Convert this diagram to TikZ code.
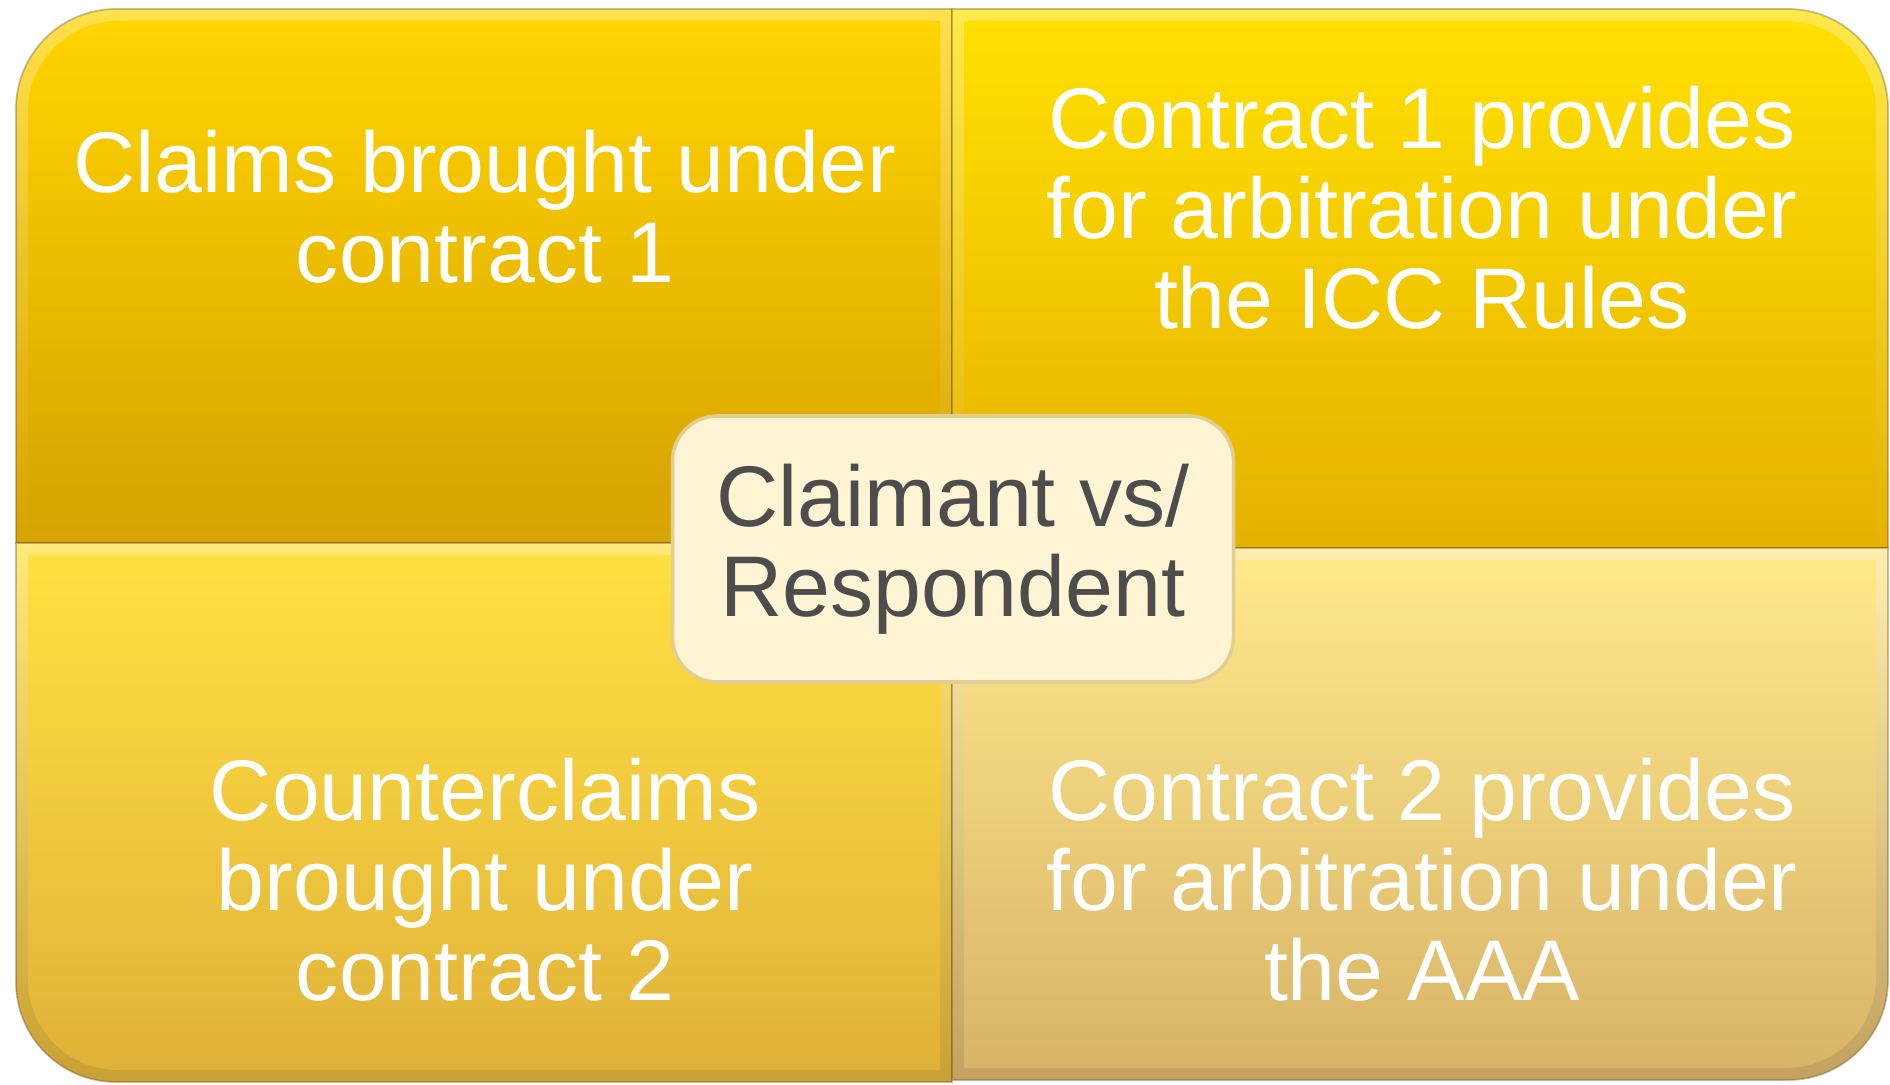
\documentclass[tikz,border=0pt]{standalone}
\usepackage{fontspec}
\setmainfont{Liberation Sans}
\usepackage{tikz}
\usetikzlibrary{positioning}
\usepackage{xcolor}
\definecolor{tltop}{HTML}{FFD400}
\definecolor{tlbot}{HTML}{D6A300}
\definecolor{trtop}{HTML}{FFE000}
\definecolor{trbot}{HTML}{E6B200}
\definecolor{bltop}{HTML}{FFE040}
\definecolor{blbot}{HTML}{E0B23A}
\definecolor{brtop}{HTML}{FFE88A}
\definecolor{brbot}{HTML}{D8B468}
\definecolor{hubfill}{HTML}{FFF4D4}
\definecolor{hubline}{HTML}{E2CD94}
\definecolor{hubtext}{HTML}{4D4D4D}
\tikzstyle{rim} = [draw=black!45!brown, draw opacity=0.35, line width=0.5pt]
\tikzstyle{paneltext} = [text=white, align=center, font=\fontsize{24.5}{25.6}\selectfont]
\tikzstyle{hub} = [rectangle, rounded corners=4.5mm, draw=hubline, fill=hubfill, line width=1pt, minimum width=56.1mm, minimum height=26.6mm, align=center, text=hubtext, font=\fontsize{24.5}{25.6}\selectfont]

\begin{document}
\begin{tikzpicture}[x=0.1mm, y=-0.1mm]
    \useasboundingbox (0,0) rectangle (1890,1085);
    % outer rims
    \path[rim, shade, top color=tltop!70!white, bottom color=tlbot] (16,543) [rounded corners=10mm] -- (16,9) [sharp corners] -- (952,9) -- (952,543) -- cycle;
    \path[rim, shade, top color=trtop!70!white, bottom color=trbot] (952,548) -- (952,9) [rounded corners=10mm] -- (1888,9) [sharp corners] -- (1888,548) -- cycle;
    \path[rim, shade, top color=bltop!70!white, bottom color=blbot!90!black] (952,543) -- (16,543) [rounded corners=10mm] -- (16,1082) [sharp corners] -- (952,1082) -- cycle;
    \path[rim, shade, top color=brtop!70!white, bottom color=brbot!90!black] (952,548) -- (1888,548) [rounded corners=10mm] -- (1888,1080) [sharp corners] -- (952,1080) -- cycle;
    % panel faces
    \path[shade, top color=tltop, bottom color=tlbot] (28,531) [rounded corners=9mm] -- (28,21) [sharp corners] -- (940,21) -- (940,531) -- cycle;
    \path[shade, top color=trtop, bottom color=trbot] (964,536) -- (964,21) [rounded corners=9mm] -- (1876,21) [sharp corners] -- (1876,536) -- cycle;
    \path[shade, top color=bltop, bottom color=blbot] (940,555) -- (28,555) [rounded corners=9mm] -- (28,1070) [sharp corners] -- (940,1070) -- cycle;
    \path[shade, top color=brtop, bottom color=brbot] (964,560) -- (1876,560) [rounded corners=9mm] -- (1876,1068) [sharp corners] -- (964,1068) -- cycle;

    \node (claims) [paneltext] at (485,207) {Claims brought under\\contract 1};
    \node (icc) [paneltext] at (1422,208) {Contract 1 provides\\for arbitration under\\the ICC Rules};
    \node (counter) [paneltext] at (485,880) {Counterclaims\\brought under\\contract 2};
    \node (aaa) [paneltext] at (1422,880) {Contract 2 provides\\for arbitration under\\the AAA};
    \node (parties) [hub] at (953,549) {Claimant vs/\\Respondent};
\end{tikzpicture}
\end{document}
